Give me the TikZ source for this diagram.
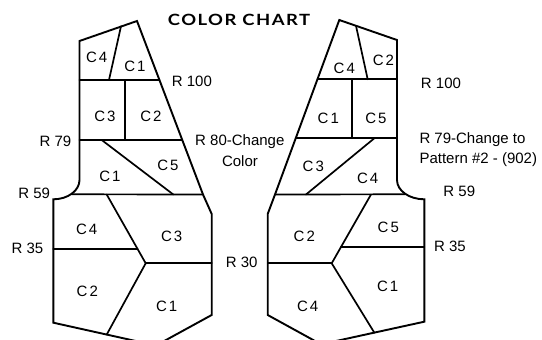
\documentclass[tikz,border=0pt]{standalone}
\usepackage{fontspec}
\setmainfont{Liberation Sans}
\newfontfamily\titlefont{Lato}[LetterSpace=8]
\usetikzlibrary{calc}
\begin{document}
\begin{tikzpicture}[x=1pt,y=-1pt,
  outline/.style={line width=1.9pt, line join=miter, line cap=round},
  seam/.style={line width=1.7pt, line cap=round},
  lbl/.style={font=\fontsize{15}{17}\selectfont, inner sep=0pt},
  wlbl/.style={lbl, anchor=west}]
\useasboundingbox (0,0) rectangle (542,340);
\clip (0,0) rectangle (542,340);

% ---------- left piece ----------
\coordinate (LA) at (79.5,41);
\coordinate (LB) at (137,21);
\coordinate (LK) at (203,194.5);
\coordinate (LK2) at (211.7,214);
\coordinate (LR) at (211.7,315);
\coordinate (LV) at (156,345.5);
\coordinate (LL) at (53.3,322.7);
\coordinate (LT) at (53.3,199.3);
\coordinate (LC) at (79.5,180);
\coordinate (LM) at (145.7,263.3);
\draw[outline] (LT) .. controls (67.8,199.3) and (79.5,190.7) .. (LC) -- (LA) -- (LB) -- (LK) -- (LK2) -- (LR) -- (LV) -- (LL) -- cycle;
\draw[seam] (121,26.3) -- (109,80);
\draw[seam] (79.5,80) -- (159.4,80);
\draw[seam] (125.3,80) -- (125.3,140);
\draw[seam] (79.5,140) -- (182.3,140);
\draw[seam] (101.7,140) -- (173.3,194.5);
\draw[seam] (71.8,194.3) -- (LK);
\draw[seam] (106.7,194.5) -- (LM);
\draw[seam] (53.3,249) -- (137.6,249);
\draw[seam] (LM) -- (211.7,263.3);
\draw[seam] (LM) -- (106.7,334.6);

% ---------- right piece ----------
\coordinate (RA) at (397,40);
\coordinate (RB) at (339.3,20);
\coordinate (RK) at (275,194.5);
\coordinate (RK2) at (267.7,214);
\coordinate (RR) at (267.7,315);
\coordinate (RV) at (321,344.3);
\coordinate (RL) at (424.3,321.7);
\coordinate (RT) at (424.3,199.3);
\coordinate (RC) at (397,180);
\coordinate (RM) at (331.7,263.3);
\draw[outline] (RC) .. controls (397,190.7) and (409.2,199.3) .. (RT) -- (RL) -- (RV) -- (RR) -- (RK2) -- (RK) -- (RB) -- (RA) -- cycle;
\draw[seam] (356,25.8) -- (367.7,79.3);
\draw[seam] (317.5,79.3) -- (397,79.3);
\draw[seam] (351.7,79.3) -- (351.7,138.3);
\draw[seam] (295.7,138.3) -- (397,138.3);
\draw[seam] (374.3,138.3) -- (306,194.5);
\draw[seam] (RK) -- (405,194.3);
\draw[seam] (371,194.5) -- (RM);
\draw[seam] (340.9,247.3) -- (424.3,247.3);
\draw[seam] (267.7,263.3) -- (RM);
\draw[seam] (RM) -- (374.3,332.6);

% ---------- title ----------
\node[inner sep=0pt, font=\titlefont\bfseries\fontsize{15.5}{18}\selectfont] (title) at (239,20.2) {\scalebox{1.19}[1]{COLOR CHART}};

% ---------- left labels ----------
\node[lbl] (l1) at (96.7,57) {C\kern2pt 4};
\node[lbl] (l2) at (135,66) {C\kern2pt 1};
\node[wlbl] (l3) at (171.7,81) {R 100};
\node[lbl] (l4) at (105,116) {C\kern2pt 3};
\node[lbl] (l5) at (151,116) {C\kern2pt 2};
\node[lbl] (l6) at (55.5,141.7) {R 79};
\node[wlbl] (l7) at (195,141.7) {R 80-Change};
\node[lbl] (l8) at (240,160.7) {Color};
\node[lbl] (l9) at (168,165) {C\kern2pt 5};
\node[lbl] (l10) at (110,176.7) {C\kern2pt 1};
\node[lbl] (l11) at (34.2,193.3) {R 59};
\node[lbl] (l12) at (86.7,229.3) {C\kern2pt 4};
\node[lbl] (l13) at (171.7,236.7) {C\kern2pt 3};
\node[lbl] (l14) at (27.5,248.3) {R 35};
\node[lbl] (l15) at (87.3,291.7) {C\kern2pt 2};
\node[lbl] (l16) at (166.7,306.7) {C\kern2pt 1};
\node[lbl] (l17) at (241.7,262.5) {R 30};

% ---------- right labels ----------
\node[lbl] (r1) at (344.3,68.3) {C\kern2pt 4};
\node[lbl] (r2) at (383.5,60) {C\kern2pt 2};
\node[lbl] (r3) at (441,83.3) {R 100};
\node[lbl] (r4) at (328.3,118.3) {C\kern2pt 1};
\node[lbl] (r5) at (376,118.3) {C\kern2pt 5};
\node[wlbl] (r6) at (419.3,140) {R 79-Change to};
\node[wlbl] (r7) at (419.3,160) {Pattern \#2 - (902)};
\node[lbl] (r8) at (313.3,166.5) {C\kern2pt 3};
\node[lbl] (r9) at (367.7,178.3) {C\kern2pt 4};
\node[lbl] (r10) at (459.3,191.7) {R 59};
\node[lbl] (r11) at (304.3,236.7) {C\kern2pt 2};
\node[lbl] (r12) at (388.3,227.3) {C\kern2pt 5};
\node[lbl] (r13) at (450,246) {R 35};
\node[lbl] (r14) at (387.7,286.7) {C\kern2pt 1};
\node[lbl] (r15) at (307.7,306) {C\kern2pt 4};
\end{tikzpicture}
\end{document}
